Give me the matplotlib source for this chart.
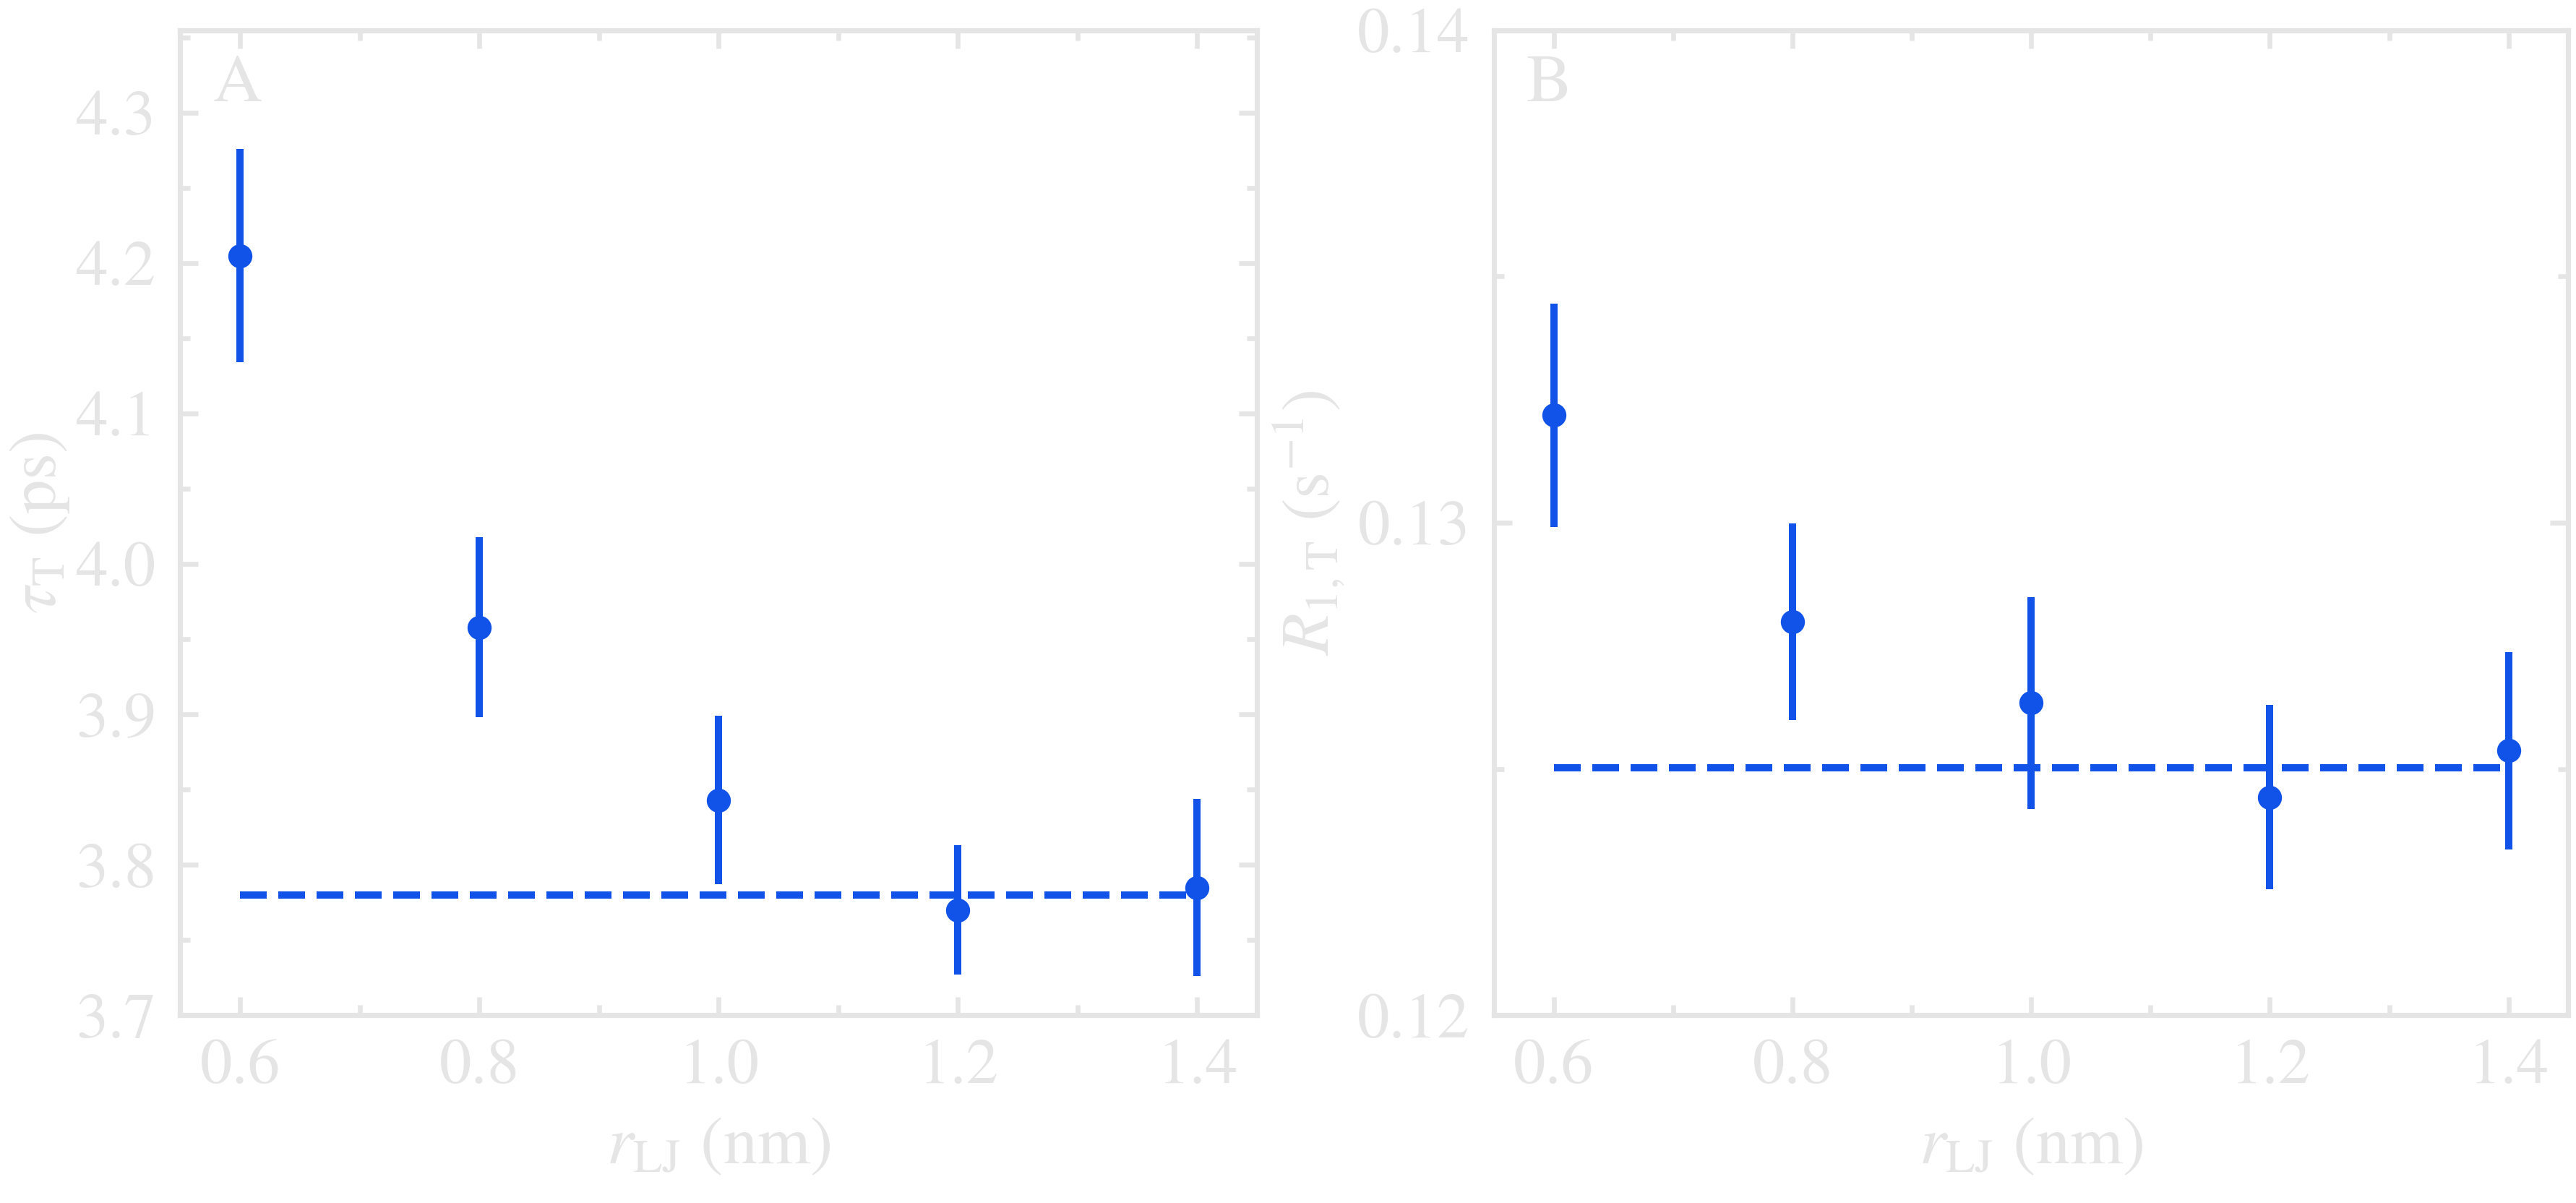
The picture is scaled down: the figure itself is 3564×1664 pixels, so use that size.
import matplotlib
matplotlib.use("Agg")
import matplotlib.pyplot as plt
from matplotlib.ticker import MultipleLocator, FormatStrFormatter

# data
r_lj = [0.6, 0.8, 1.0, 1.2, 1.4]
tau_t = [4.205, 3.958, 3.843, 3.770, 3.785]
tau_err = [0.071, 0.060, 0.056, 0.043, 0.059]
tau_ref = 3.780
r1_t = [0.13218, 0.12799, 0.12634, 0.12443, 0.12537]
r1_err = [0.00227, 0.00200, 0.00215, 0.00187, 0.00201]
r1_ref = 0.12503

blue = "#1153e8"
grey = "#e5e5e5"

plt.rcParams["font.family"] = "STIXGeneral"
plt.rcParams["mathtext.fontset"] = "stix"
plt.rcParams["font.size"] = 34

fig = plt.figure(figsize=(17.82, 8.32), dpi=200)
axA = fig.add_axes([0.070, 0.156, 0.418, 0.819])
axB = fig.add_axes([0.580, 0.156, 0.417, 0.819])


def style(ax):
    for s in ax.spines.values():
        s.set_color(grey)
        s.set_linewidth(2.6)
    ax.tick_params(which="both", direction="in", top=True, right=True,
                   color=grey, labelcolor=grey, width=2.4, pad=12,
                   labelsize=32)
    ax.tick_params(which="major", length=9)
    ax.tick_params(which="minor", length=5)
    ax.xaxis.set_major_locator(MultipleLocator(0.2))
    ax.xaxis.set_minor_locator(MultipleLocator(0.1))
    ax.xaxis.set_major_formatter(FormatStrFormatter("%.1f"))
    ax.set_xlim(0.55, 1.45)
    ax.set_xlabel(r"$r_{\mathrm{LJ}}$ (nm)", color=grey, labelpad=10)


# panel A
axA.errorbar(r_lj, tau_t, yerr=tau_err, fmt="o", color=blue, ms=11,
             elinewidth=3.6, capsize=0)
axA.plot([r_lj[0], r_lj[-1]], [tau_ref, tau_ref], "--", color=blue, lw=3.6)
style(axA)
axA.set_ylim(3.7, 4.355)
axA.yaxis.set_major_locator(MultipleLocator(0.1))
axA.yaxis.set_minor_locator(MultipleLocator(0.05))
axA.yaxis.set_major_formatter(FormatStrFormatter("%.1f"))
axA.set_ylabel(r"$\tau_{\mathrm{T}}$ (ps)", color=grey, labelpad=2)
axA.text(0.03, 0.975, "A", transform=axA.transAxes, ha="left", va="top",
         color=grey, fontsize=34)

# panel B
axB.errorbar(r_lj, r1_t, yerr=r1_err, fmt="o", color=blue, ms=11,
             elinewidth=3.6, capsize=0)
axB.plot([r_lj[0], r_lj[-1]], [r1_ref, r1_ref], "--", color=blue, lw=3.6)
style(axB)
axB.set_ylim(0.12, 0.14)
axB.yaxis.set_major_locator(MultipleLocator(0.01))
axB.yaxis.set_minor_locator(MultipleLocator(0.005))
axB.yaxis.set_major_formatter(FormatStrFormatter("%.2f"))
axB.set_ylabel(r"$R_{1,\mathrm{T}}$ (s$^{-1}$)", color=grey, labelpad=6)
axB.text(0.03, 0.975, "B", transform=axB.transAxes, ha="left", va="top",
         color=grey, fontsize=34)

fig.savefig("out.png", dpi=200)
